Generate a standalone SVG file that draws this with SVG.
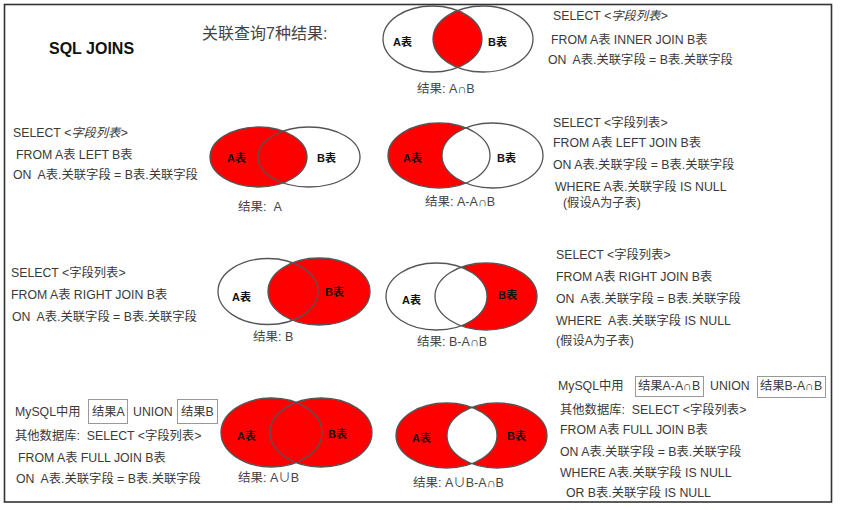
<svg xmlns="http://www.w3.org/2000/svg" width="841" height="510" viewBox="0 0 841 510">
<style>
text{font-family:'Liberation Sans','Noto Sans CJK SC',sans-serif;fill:#3a3a3a;font-size:12.3px;white-space:pre}
.lbl{font-weight:bold;fill:#111;font-size:11px}
.res{font-size:12.5px;fill:#444}
.it{font-style:italic}
.e{stroke:#555;stroke-width:1.3;fill:none}
.r{fill:#ff0000}
.w{fill:#fff}
.box{fill:#fff;stroke:#999;stroke-width:1}
</style>
<defs>
<clipPath id="c1"><ellipse cx="432.5" cy="39" rx="49.5" ry="33"/></clipPath>
<clipPath id="c7"><ellipse cx="446.5" cy="435.5" rx="50.5" ry="32.5"/></clipPath>
</defs>
<rect x="0" y="0" width="841" height="510" fill="#fff"/>
<rect x="4.5" y="4.5" width="827" height="497.5" fill="none" stroke="#333" stroke-width="1.6"/>

<g id="title">
<text x="49" y="54" style="font-size:16px;font-weight:bold;fill:#111">SQL JOINS</text>
<text x="202" y="39" style="font-size:16px;fill:#444">关联查询7种结果:</text>
</g>

<g id="inner-join-venn">
<ellipse cx="483" cy="39" rx="50" ry="33" class="r" clip-path="url(#c1)"/>
<ellipse cx="432.5" cy="39" rx="49.5" ry="33" class="e"/>
<ellipse cx="483" cy="39" rx="50" ry="33" class="e"/>
<text x="393" y="46" class="lbl">A表</text>
<text x="488" y="46" class="lbl">B表</text>
<text x="417" y="93" class="res">结果: A∩B</text>
</g>
<g id="inner-join-sql">
<text x="553" y="20">SELECT <tspan class="it">&lt;字段列表&gt;</tspan></text>
<text x="551" y="44">FROM A表 INNER JOIN B表</text>
<text x="548" y="64">ON  A表.关联字段 = B表.关联字段</text>
</g>

<g id="left-join-sql">
<text x="13" y="137">SELECT <tspan class="it">&lt;字段列表&gt;</tspan></text>
<text x="16" y="159">FROM A表 LEFT B表</text>
<text x="13" y="179">ON  A表.关联字段 = B表.关联字段</text>
</g>
<g id="left-join-venn">
<ellipse cx="309" cy="157" rx="51" ry="30" class="w"/>
<ellipse cx="258.5" cy="157" rx="48.5" ry="30" class="r"/>
<ellipse cx="258.5" cy="157" rx="48.5" ry="30" class="e"/>
<ellipse cx="309" cy="157" rx="51" ry="30" class="e"/>
<text x="227" y="162" class="lbl">A表</text>
<text x="317" y="162" class="lbl">B表</text>
<text x="238" y="211" class="res">结果:  A</text>
</g>

<g id="left-only-venn">
<ellipse cx="439" cy="155.5" rx="51" ry="32.5" class="r"/>
<ellipse cx="492.5" cy="155.5" rx="50.5" ry="32.5" class="w"/>
<ellipse cx="439" cy="155.5" rx="51" ry="32.5" class="e"/>
<ellipse cx="492.5" cy="155.5" rx="50.5" ry="32.5" class="e"/>
<text x="403" y="162" class="lbl">A表</text>
<text x="497" y="162" class="lbl">B表</text>
<text x="425" y="206" class="res">结果: A-A∩B</text>
</g>
<g id="left-only-sql">
<text x="553" y="127">SELECT &lt;字段列表&gt;</text>
<text x="553" y="147">FROM A表 LEFT JOIN B表</text>
<text x="553" y="169">ON A表.关联字段 = B表.关联字段</text>
<text x="555" y="191">WHERE A表.关联字段 IS NULL</text>
<text x="563" y="207">(假设A为子表)</text>
</g>

<g id="right-join-sql">
<text x="11" y="277">SELECT &lt;字段列表&gt;</text>
<text x="11" y="299">FROM A表 RIGHT JOIN B表</text>
<text x="12" y="321">ON  A表.关联字段 = B表.关联字段</text>
</g>
<g id="right-join-venn">
<ellipse cx="268" cy="291.5" rx="50" ry="33" class="w"/>
<ellipse cx="319" cy="291.5" rx="51" ry="33.5" class="r"/>
<ellipse cx="268" cy="291.5" rx="50" ry="33" class="e"/>
<ellipse cx="319" cy="291.5" rx="51" ry="33.5" class="e"/>
<text x="232" y="301" class="lbl">A表</text>
<text x="325" y="296" class="lbl">B表</text>
<text x="253" y="341" class="res">结果: B</text>
</g>

<g id="right-only-venn">
<ellipse cx="486" cy="296.5" rx="51" ry="33.5" class="r"/>
<ellipse cx="436.5" cy="296.5" rx="50.5" ry="33.5" class="w"/>
<ellipse cx="436.5" cy="296.5" rx="50.5" ry="33.5" class="e"/>
<ellipse cx="486" cy="296.5" rx="51" ry="33.5" class="e"/>
<text x="402" y="304" class="lbl">A表</text>
<text x="498" y="299" class="lbl">B表</text>
<text x="417" y="346" class="res">结果: B-A∩B</text>
</g>
<g id="right-only-sql">
<text x="556" y="259">SELECT &lt;字段列表&gt;</text>
<text x="556" y="281">FROM A表 RIGHT JOIN B表</text>
<text x="556" y="303">ON  A表.关联字段 = B表.关联字段</text>
<text x="556" y="325">WHERE  A表.关联字段 IS NULL</text>
<text x="556" y="345">(假设A为子表)</text>
</g>

<g id="full-join-sql">
<text x="15" y="416">MySQL中用</text>
<rect x="88.5" y="399.5" width="39" height="24" class="box"/>
<text x="92" y="416">结果A</text>
<text x="133" y="416">UNION</text>
<rect x="177.5" y="399.5" width="40" height="24" class="box"/>
<text x="181" y="416">结果B</text>
<text x="15" y="440">其他数据库:  SELECT &lt;字段列表&gt;</text>
<text x="18" y="462">FROM A表 FULL JOIN B表</text>
<text x="16" y="483">ON  A表.关联字段 = B表.关联字段</text>
</g>
<g id="full-join-venn">
<ellipse cx="271.5" cy="432.5" rx="50.5" ry="34.5" class="r"/>
<ellipse cx="321" cy="432.5" rx="51" ry="34.5" class="r"/>
<ellipse cx="271.5" cy="432.5" rx="50.5" ry="34.5" class="e"/>
<ellipse cx="321" cy="432.5" rx="51" ry="34.5" class="e"/>
<text x="237" y="440" class="lbl">A表</text>
<text x="328" y="438" class="lbl">B表</text>
<text x="238" y="482" class="res">结果: A∪B</text>
</g>

<g id="full-outer-venn">
<ellipse cx="446.5" cy="435.5" rx="50.5" ry="32.5" class="r"/>
<ellipse cx="497" cy="435.5" rx="50" ry="32.5" class="r"/>
<ellipse cx="497" cy="435.5" rx="50" ry="32.5" class="w" clip-path="url(#c7)"/>
<ellipse cx="446.5" cy="435.5" rx="50.5" ry="32.5" class="e"/>
<ellipse cx="497" cy="435.5" rx="50" ry="32.5" class="e"/>
<text x="412" y="442" class="lbl">A表</text>
<text x="507" y="440" class="lbl">B表</text>
<text x="413" y="487" class="res">结果: A∪B-A∩B</text>
</g>
<g id="full-outer-sql">
<text x="558" y="390">MySQL中用</text>
<rect x="635.5" y="376.5" width="68" height="20" class="box"/>
<text x="638" y="390">结果A-A∩B</text>
<text x="710" y="390">UNION</text>
<rect x="757.5" y="376.5" width="68" height="21" class="box"/>
<text x="760" y="390">结果B-A∩B</text>
<text x="560" y="414">其他数据库:  SELECT &lt;字段列表&gt;</text>
<text x="560" y="434">FROM A表 FULL JOIN B表</text>
<text x="560" y="456">ON A表.关联字段 = B表.关联字段</text>
<text x="560" y="477">WHERE A表.关联字段 IS NULL</text>
<text x="566" y="497">OR B表.关联字段 IS NULL</text>
</g>
</svg>
